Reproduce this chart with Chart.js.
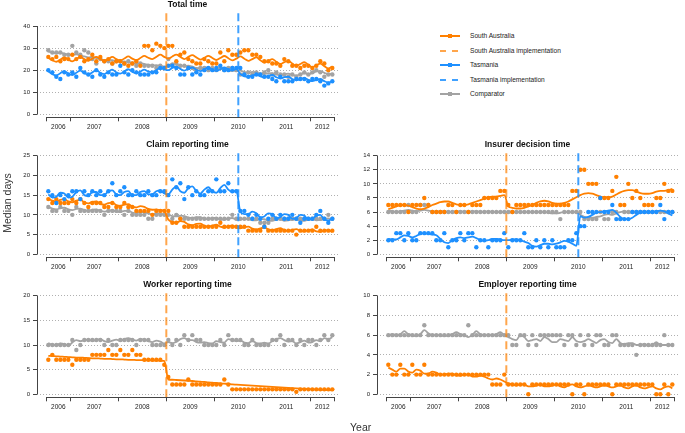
<!DOCTYPE html>
<html>
<head>
<meta charset="utf-8">
<script src="https://cdn.jsdelivr.net/npm/chart.js@4"></script>
<style>
body { margin: 0; background: #fff; font-family: "Liberation Sans", Arial, sans-serif; }
#wrap { position: relative; width: 685px; height: 433px; overflow: hidden; }
canvas { position: absolute; }
#legend { position: absolute; left: 440px; top: 0; font-size: 6.6px; color: #222; }
#legend .row { position: absolute; left: 0; height: 10px; width: 200px; }
#legend .sample { position: absolute; left: 0; top: 4px; width: 20px; height: 2px; }
#legend .mark { position: absolute; left: 8px; top: 3px; width: 4px; height: 4px; }
#legend .dash { position: absolute; top: 4px; width: 6px; height: 2px; }
#legend .txt { position: absolute; left: 30px; top: 1px; white-space: nowrap; }
#ylab { position: absolute; left: -28px; top: 197px; width: 70px; text-align: center; font-size: 10.5px; color: #333; transform: rotate(-90deg); }
#xlab { position: absolute; left: 350px; top: 421px; font-size: 10.5px; color: #333; }
</style>
</head>
<body>
<div id="wrap">
  <canvas id="total" width="342" height="140" style="left:0;top:0"></canvas>
  <canvas id="claim" width="342" height="140" style="left:0;top:140px"></canvas>
  <canvas id="worker" width="342" height="140" style="left:0;top:280px"></canvas>
  <canvas id="insurer" width="342" height="140" style="left:340px;top:140px"></canvas>
  <canvas id="employer" width="342" height="140" style="left:340px;top:280px"></canvas>
  <div id="legend"></div>
  <div id="ylab">Median days</div>
  <div id="xlab">Year</div>
</div>
<script>
// monthly series, Jul 2006 .. Jun 2012 (72 months)
const years = ['2006', '2007', '2008', '2009', '2010', '2011', '2012'];
const nMonths = 72;
const firstMonth = 7; // July 2006
const saStart = 30;   // Jan 2009
const tasStart = 48;  // Jul 2010

// Total time
const totalSA = [
  26, 25, 26, 24, 25, 25, 27, 25, 26, 24, 25, 27,
  24, 26, 24, 25, 23, 24, 24, 23, 22, 23, 24, 22,
  31, 31, 29, 32, 31, 30, 31, 31, 24, 27, 28, 25,
  24, 23, 23, 25, 24, 23, 23, 28, 24, 29, 27, 27,
  28, 29, 29, 27, 27, 26, 24, 24, 23, 23, 22, 25,
  24, 22, 22, 21, 22, 22, 21, 22, 24, 23, 20, 21];
const totalSAFit = [
  25.5, 24.5, 23.8, 24.8, 25.8, 24.8, 24, 25, 26, 25, 24.2, 25.2,
  26, 25, 24.2, 25, 26, 25, 24.3, 25.3, 26.2, 25.2, 24.5, 25.5,
  26.5, 25.6, 25, 26, 27, 26, 25.2, 26.2, 27, 26, 25, 26,
  26.8, 25.8, 24.8, 25.6, 26.5, 25.5, 24.6, 25.5, 26.4, 25.4, 24.4, 25.2,
  26.2, 25.2, 24.2, 25, 25.8, 24.5, 23.4, 24.2, 25, 23.8, 22.8, 23.6,
  24.2, 23, 22, 22.8, 23.6, 22.4, 21.4, 22.2, 23, 21.8, 20.8, 21.6];
const totalTas = [
  20, 19, 17, 16, 19, 18, 19, 17, 21, 19, 18, 17,
  20, 18, 17, 19, 18, 18, 22, 19, 18, 20, 19, 18,
  18, 18, 19, 19, 21, 21, 22, 22, 21, 18, 18, 21,
  18, 19, 18, 20, 21, 20, 21, 22, 20, 20, 21, 21,
  21, 18, 17, 17, 18, 18, 17, 17, 16, 15, 17, 15,
  15, 15, 16, 16, 16, 15, 16, 16, 15, 13, 14, 15];
const totalTasFit = [
  19.5, 18.2, 17.6, 18.6, 19.6, 18.4, 17.8, 18.8, 19.8, 18.6, 18, 19,
  20, 18.8, 18.2, 19.2, 20.2, 19, 18.4, 19.4, 20.4, 19.2, 18.6, 19.4,
  20.2, 19.4, 19, 20, 21, 20.4, 20, 21, 21.6, 20.6, 19.8, 20.6,
  21.2, 20.2, 19.6, 20.4, 21.2, 20.2, 19.6, 20.4, 21.2, 20.4, 19.8, 20.6,
  18.2, 17.2, 17, 17.6, 18, 17.2, 16.8, 17.4, 17.8, 16.8, 16.2, 16.8,
  17, 16, 15.4, 16, 16.4, 15.6, 15, 15.6, 16, 15, 14.4, 15];
const totalComp = [
  29, 28, 28, 28, 27, 27, 31, 28, 27, 29, 28, 25,
  23, 25, 24, 24, 23, 24, 24, 23, 24, 23, 22, 23,
  22, 22, 22, 21, 22, 21, 25, 22, 23, 22, 22, 21,
  21, 20, 21, 21, 20, 21, 20, 21, 20, 21, 21, 20,
  18, 18, 19, 18, 19, 18, 19, 20, 18, 19, 18, 18,
  17, 18, 17, 18, 19, 18, 19, 20, 19, 17, 18, 18];
const totalCompFit = [
  28.5, 28, 27.6, 27.8, 27.5, 27, 26.8, 27.2, 26.8, 26.2, 25.8, 26,
  25.5, 25, 24.6, 24.8, 24.5, 24, 23.8, 24, 23.6, 23.2, 23, 23.2,
  22.8, 22.4, 22, 22.3, 22, 21.6, 21.8, 23.2, 22.6, 22, 21.8, 22,
  21.6, 21, 20.8, 21.2, 21, 20.4, 20.2, 20.6, 20.4, 19.8, 19.6, 20,
  19.8, 19.2, 18.8, 19.2, 19, 18.4, 18.2, 18.6, 18.5, 18, 17.8, 18.2,
  18.4, 17.8, 17.6, 18.2, 18.6, 18.2, 18.6, 19.4, 19.6, 18.8, 18.2, 18.4];

// Claim reporting time
const claimSA = [
  14, 13, 14, 13, 13, 13, 14, 13, 14, 13, 12, 13,
  13, 13, 12, 12, 13, 12, 12, 13, 12, 12, 11, 11,
  11, 11, 10, 11, 11, 11, 11, 8, 8, 9, 7, 7,
  7, 7, 7, 7, 7, 7, 7, 8, 7, 7, 7, 7,
  7, 7, 6, 6, 6, 6, 7, 6, 6, 6, 6, 6,
  6, 6, 5, 6, 6, 6, 6, 7, 6, 6, 6, 6];
const claimSAFit = [
  14.2, 13.6, 13.4, 13.8, 14, 13.4, 13.2, 13.6, 13.8, 13.2, 12.9, 13.3,
  13.4, 12.8, 12.6, 13, 13.1, 12.5, 12.3, 12.6, 12.7, 12.1, 11.9, 12.2,
  12, 11.5, 11.3, 11.4, 11.2, 11, 8.8, 8.2, 8, 8.4, 8.2, 7.6,
  7.4, 7.7, 7.8, 7.2, 7, 7.3, 7.5, 7, 6.8, 7.1, 7.3, 6.8,
  6.6, 6.9, 7, 6.5, 6.3, 6.6, 6.8, 6.3, 6.1, 6.4, 6.6, 6.1,
  5.9, 6.2, 6.4, 5.9, 5.8, 6.1, 6.3, 5.8, 5.7, 6, 6.1, 5.7];
const claimTas = [
  16, 15, 13, 15, 14, 15, 16, 16, 14, 16, 15, 16,
  15, 16, 15, 16, 18, 15, 16, 17, 15, 15, 16, 15,
  15, 16, 15, 15, 16, 16, 15, 19, 17, 18, 14, 17,
  15, 16, 15, 15, 16, 16, 19, 16, 16, 18, 16, 16,
  11, 11, 10, 9, 10, 9, 7, 9, 10, 9, 10, 9,
  9, 10, 9, 8, 9, 9, 9, 10, 11, 9, 8, 9];
const claimTasFit = [
  15.2, 14.4, 14.6, 15.6, 15.4, 14.4, 14.6, 15.8, 16.2, 15, 14.8, 15.8,
  15.8, 15, 15, 16, 16.2, 15.2, 15, 15.8, 16, 15, 15, 15.8,
  16, 15.2, 15.2, 16, 16.2, 15.4, 15.2, 16.4, 17.2, 16, 15.6, 16.8,
  17.2, 16, 15.4, 16.4, 17, 16, 15.6, 16.8, 17.6, 16.4, 15.8, 16.2,
  10.8, 10.2, 10.2, 10.8, 10.4, 9.4, 9.6, 10.4, 10.2, 9.2, 9.4, 10.2,
  10, 9, 9.2, 10, 9.8, 8.8, 9, 9.8, 10, 8.8, 8.6, 9];
const claimComp = [
  12, 11, 11, 12, 11, 11, 10, 12, 11, 11, 11, 11,
  11, 11, 10, 11, 11, 11, 11, 10, 11, 10, 10, 10,
  10, 9, 9, 10, 10, 10, 10, 9, 10, 9, 9, 9,
  9, 9, 9, 9, 9, 9, 9, 9, 9, 9, 10, 9,
  9, 9, 9, 9, 9, 8, 8, 8, 9, 9, 9, 9,
  9, 9, 9, 9, 9, 9, 9, 9, 9, 9, 10, 9];
const claimCompFit = [
  12, 11.6, 11.4, 11.7, 11.8, 11.4, 11.2, 11.5, 11.6, 11.2, 11, 11.3,
  11.4, 11, 10.8, 11.1, 11.2, 10.8, 10.7, 11, 11, 10.6, 10.4, 10.7,
  10.7, 10.3, 10.1, 10.4, 10.4, 10, 10, 9.7, 9.6, 9.8, 9.7, 9.3,
  9.2, 9.4, 9.4, 9, 8.9, 9.2, 9.2, 8.8, 8.8, 9.1, 9.2, 8.8,
  8.8, 9, 9, 8.6, 8.6, 8.9, 8.9, 8.5, 8.5, 8.8, 8.9, 8.5,
  8.6, 8.8, 8.9, 8.5, 8.5, 8.8, 8.9, 8.6, 8.7, 9, 9.1, 8.8];

// Worker reporting time
const workerSA = [
  7, 8, 7, 7, 7, 7, 6, 7, 7, 7, 7, 8,
  8, 8, 8, 9, 8, 8, 9, 8, 8, 9, 8, 8,
  7, 7, 7, 7, 7, 6, 3.5, 2, 2, 2, 2, 3,
  2, 2, 2, 2, 2, 2, 2, 2, 3, 2, 1, 1,
  1, 1, 1, 1, 1, 1, 1, 1, 1, 1, 1, 1,
  1, 1, 0.5, 1, 1, 1, 1, 1, 1, 1, 1, 1];
const workerSAFit = [
  7.8, 7.75, 7.7, 7.65, 7.6, 7.55, 7.5, 7.45, 7.45, 7.4, 7.35, 7.3,
  7.3, 7.25, 7.2, 7.2, 7.15, 7.1, 7.1, 7.05, 7, 7, 6.95, 6.95,
  6.9, 6.9, 6.85, 6.85, 6.8, 6.8, 3, 2.95, 2.9, 2.85, 2.8, 2.75,
  2.7, 2.6, 2.55, 2.5, 2.4, 2.35, 2.3, 2.2, 2.15, 2.1, 2, 1.95,
  1.9, 1.85, 1.8, 1.75, 1.7, 1.65, 1.6, 1.55, 1.5, 1.45, 1.4, 1.35,
  1.3, 1.25, 1.2, 1.15, 1.1, 1.05, 1, 0.95, 0.9, 0.9, 0.85, 0.8];
const workerComp = [
  10, 10, 10, 10, 10, 10, 11, 9, 10, 11, 11, 11,
  11, 11, 10, 11, 10, 10, 11, 11, 11, 11, 10, 11,
  11, 11, 10, 10, 10, 10, 11, 10, 11, 10, 12, 11,
  12, 11, 11, 10, 10, 10, 10, 11, 10, 12, 11, 11,
  11, 10, 10, 11, 10, 10, 10, 10, 11, 11, 12, 10,
  11, 11, 10, 11, 10, 11, 11, 10, 11, 12, 11, 12];
const workerCompFit = [
  10.4, 10, 10, 10.3, 10.2, 9.9, 10.5, 11, 10.8, 11, 11.1, 10.8,
  11, 11.2, 10.8, 10.6, 10.9, 11.1, 10.8, 11.2, 11.4, 11.1, 10.9, 11.2,
  11.1, 10.8, 10.6, 10.9, 10.7, 10.3, 10.6, 10.4, 10.6, 11.2, 11.4, 11,
  11, 10.6, 10.5, 10.6, 10.4, 10.3, 10.8, 10.6, 10.5, 11.2, 11, 10.8,
  10.9, 10.5, 10.4, 10.8, 10.4, 10.3, 10.5, 10.3, 10.8, 11.2, 11.4, 11,
  10.7, 10.8, 10.3, 10.6, 10.9, 10.5, 10.6, 11, 10.8, 11.4, 11.2, 11.6];

// Insurer decision time
const insurerSA = [
  7, 7, 7, 7, 7, 6, 7, 7, 7, 8, 7, 6,
  6, 6, 6, 7, 7, 6, 7, 7, 6, 7, 7, 7,
  8, 8, 8, 8, 9, 9, 7, 6, 7, 7, 7, 7,
  7, 7, 7, 7, 7, 7, 7, 7, 7, 7, 9, 9,
  12, 12, 10, 10, 10, 8, 8, 8, 9, 11, 7, 7,
  10, 8, 9, 8, 7, 7, 7, 8, 8, 10, 9, 9];
const insurerSAFit = [
  6.4, 6.6, 6.8, 7, 7, 6.9, 6.7, 6.5, 6.4, 6.5, 6.7, 7,
  7.2, 7.4, 7.5, 7.5, 7.3, 7.1, 7, 7, 7.1, 7.3, 7.5, 7.7,
  7.9, 8.1, 8.2, 8.2, 8.3, 8.4, 6.8, 6.6, 6.5, 6.5, 6.6, 6.8,
  7, 7.3, 7.5, 7.6, 7.5, 7.3, 7.2, 7.2, 7.3, 7.5, 7.8, 8.1,
  8.4, 8.6, 8.7, 8.6, 8.4, 8.2, 8.1, 8.1, 8.2, 8.5, 8.8, 9,
  9.1, 9.1, 8.9, 8.7, 8.6, 8.6, 8.7, 8.9, 9, 9, 9.1, 9.3];
const insurerTas = [
  2, 2, 3, 3, 2, 3, 2, 2, 3, 3, 3, 3,
  2, 2, 3, 1, 2, 2, 3, 2, 3, 3, 1, 2,
  2, 1, 2, 2, 2, 3, 1, 2, 2, 2, 3, 1,
  1, 2, 1, 2, 1, 2, 1, 1, 1, 2, 2, 3,
  4, 4, 6, 6, 6, 8, 6, 6, 7, 5, 5, 5,
  5, 6, 6, 6, 6, 6, 6, 6, 7, 5, 6, 6];
const insurerTasFit = [
  2.2, 2.1, 2.1, 2.4, 2.7, 2.6, 2.4, 2.6, 2.9, 3, 2.9, 2.8,
  2.7, 2.2, 1.7, 1.6, 2, 2.3, 2.4, 2.3, 2.4, 2.5, 2.3, 2,
  1.9, 2, 2.2, 2.2, 2.1, 2, 2, 2.1, 2.1, 2, 1.8, 1.6,
  1.2, 1.1, 1.3, 1.5, 1.5, 1.4, 1.5, 1.7, 1.9, 1.8, 1.5, 1.2,
  5.4, 5.2, 5.3, 5.6, 5.9, 6, 6.1, 6.2, 6.3, 5.9, 5.3, 5,
  5, 5.2, 5.6, 5.9, 6, 6, 6, 6.1, 6.2, 6.1, 5.8, 5.5];
const insurerComp = [
  6, 6, 6, 6, 6, 7, 6, 6, 7, 7, 7, 6,
  6, 6, 6, 6, 6, 6, 6, 6, 6, 6, 6, 6,
  6, 6, 6, 6, 6, 6, 6, 6, 6, 6, 6, 6,
  6, 6, 6, 6, 6, 6, 6, 5, 6, 6, 6, 6,
  6, 5, 5, 5, 5, 6, 5, 5, 6, 6, 5, 6,
  6, 6, 6, 6, 6, 6, 6, 6, 6, 6, 6, 6];
const insurerCompFit = [
  6.2, 6.1, 6, 6.1, 6.2, 6.3, 6.2, 6.1, 6.2, 6.3, 6.2, 6.1,
  6, 6.1, 6.1, 6, 6, 6.1, 6.1, 6, 6, 6.1, 6.1, 6,
  6, 6.1, 6, 6, 6, 6, 6, 6, 6, 6, 6, 6,
  6, 6, 6, 6, 5.9, 5.8, 5.8, 5.9, 6, 6, 6, 6,
  5.6, 5.3, 5.2, 5.2, 5.3, 5.4, 5.6, 5.7, 5.6, 5.8, 6, 6.1,
  6, 5.9, 6, 6.1, 6, 5.9, 6, 6.1, 6.2, 6.1, 6, 6];

// Employer reporting time
const employerSA = [
  3, 2, 2, 3, 2, 2, 3, 2, 2, 3, 2, 2,
  2, 2, 2, 2, 2, 2, 2, 2, 2, 2, 2, 2,
  2, 2, 1, 1, 1, 2, 1, 1, 1, 1, 1, 0,
  1, 1, 1, 1, 1, 1, 1, 1, 1, 1, 0, 1,
  1, 0, 1, 1, 1, 1, 1, 1, 0, 1, 1, 1,
  1, 1, 1, 1, 1, 1, 1, 0, 0, 1, 0, 1];
const employerSAFit = [
  2.7, 2.5, 2.3, 2.6, 2.6, 2.3, 2.2, 2.5, 2.4, 2.1, 2.1, 2.3,
  2.2, 2, 2, 2.1, 2.1, 1.9, 1.9, 2, 2, 1.8, 1.8, 1.9,
  1.8, 1.6, 1.5, 1.6, 1.5, 1.3, 1.1, 1, 0.9, 1, 1, 0.8,
  0.8, 0.9, 1, 0.8, 0.8, 0.9, 1, 0.8, 0.7, 0.9, 1, 0.8,
  0.7, 0.8, 0.9, 0.8, 0.7, 0.8, 0.9, 0.8, 0.7, 0.8, 0.9, 0.7,
  0.6, 0.8, 0.9, 0.7, 0.6, 0.7, 0.8, 0.6, 0.5, 0.7, 0.8, 0.6];
const employerComp = [
  6, 6, 6, 6, 6, 6, 6, 6, 6, 7, 6, 6,
  6, 6, 6, 6, 6, 6, 6, 6, 7, 6, 6, 6,
  6, 6, 6, 6, 6, 6, 6, 5, 5, 6, 6, 5,
  6, 5, 6, 6, 6, 6, 6, 6, 5, 6, 6, 5,
  6, 5, 6, 5, 6, 6, 5, 5, 6, 6, 5, 5,
  5, 5, 4, 5, 5, 5, 5, 5, 5, 6, 5, 5];
const employerCompFit = [
  6, 6.1, 6, 6.1, 6.4, 6.1, 6, 5.9, 6.1, 6.5, 6.2, 6,
  6, 6, 5.9, 6, 6.1, 6.3, 6.1, 6, 5.8, 6, 6.4, 6.1,
  6, 6, 6, 6.1, 6.3, 6, 5.8, 5.6, 5.5, 6, 5.8, 5.4,
  5.5, 5.6, 5.4, 5.8, 5.6, 5.3, 5.3, 5.6, 5.5, 5.4, 5.8, 5.4,
  5.3, 5.4, 5.6, 5.4, 5.2, 5.5, 5.6, 5.3, 5.2, 5.6, 5.2, 5.1,
  5.2, 5.2, 5, 5, 5.1, 4.9, 5, 5.3, 5, 5, 5, 5];

const totalTicks = [0, 10, 20, 30, 40];
const claimTicks = [0, 5, 10, 15, 20, 25];
const workerTicks = [0, 5, 10, 15, 20];
const insurerTicks = [0, 2, 4, 6, 8, 10, 12, 14];
const employerTicks = [0, 2, 4, 6, 8, 10];

const SA = '#ff8000', TAS = '#1e90ff', COMP = '#a3a3a3';
const SA_IMPL = 'rgba(255,128,0,0.7)', TAS_IMPL = 'rgba(30,144,255,0.85)';

Chart.defaults.font.family = "'Liberation Sans', Arial, sans-serif";
Chart.defaults.color = '#222';

// year boundaries (January) and label positions (middle of each year's visible part)
const bounds = [0];
const labelAt = {};
years.forEach((y, k) => {
  const s = Math.max(0, k * 12 - (firstMonth - 1));
  const e = Math.min(nMonths, (k + 1) * 12 - (firstMonth - 1));
  if (s > 0) bounds.push(s);
  labelAt[(s + e) / 2] = y;
});
bounds.push(nMonths);
const xTickVals = [...new Set([...bounds, ...Object.keys(labelAt).map(Number)])].sort((a, b) => a - b);

// R-style axis lines: only between first and last tick
const rAxes = {
  id: 'rAxes',
  afterDatasetsDraw(chart) {
    const { ctx, chartArea: a, scales: { x, y } } = chart;
    const yt = y.ticks;
    const by = Math.round(a.bottom) + 0.5, lx = Math.round(a.left) + 0.5;
    ctx.save();
    ctx.strokeStyle = '#444';
    ctx.lineWidth = 1;
    ctx.beginPath();
    ctx.moveTo(x.getPixelForValue(0), by);
    ctx.lineTo(x.getPixelForValue(nMonths), by);
    ctx.moveTo(lx, y.getPixelForValue(yt[0].value));
    ctx.lineTo(lx, y.getPixelForValue(yt[yt.length - 1].value));
    ctx.stroke();
    ctx.restore();
  }
};

const pts = arr => arr.map((v, i) => ({ x: i + 0.5, y: v }));

function panel(id, title, yTicks, topPx, series, impl) {
  const AREA_TOP = 10, AREA_BOTTOM = 117.3, ZERO_PX = 114.3;
  const top = yTicks[yTicks.length - 1];
  const ppu = (ZERO_PX - topPx) / top;
  const yMax = top + (topPx - AREA_TOP) / ppu;
  const yMin = -(AREA_BOTTOM - ZERO_PX) / ppu;

  const datasets = [];
  impl.forEach(l => datasets.push({
    data: [{ x: l.x, y: yMin }, { x: l.x, y: yMax }],
    showLine: true, borderColor: l.color, borderWidth: 2,
    borderDash: [8, 4], pointRadius: 0
  }));
  series.forEach(s => {
    datasets.push({
      data: pts(s.fit), showLine: true, borderColor: s.color, borderWidth: 1.8,
      pointRadius: 0, cubicInterpolationMode: 'monotone'
    });
    datasets.push({
      data: pts(s.points), showLine: false, backgroundColor: s.color,
      borderWidth: 0, pointRadius: 2.2
    });
  });

  new Chart(document.getElementById(id), {
    type: 'scatter',
    data: { datasets },
    options: {
      responsive: false,
      animation: false,
      layout: { padding: { left: 0, right: 4, top: 0, bottom: 0 } },
      plugins: {
        legend: { display: false },
        tooltip: { enabled: false },
        title: {
          display: true, text: title, fullSize: false, color: '#111',
          font: { size: 8.5, weight: 'bold', lineHeight: '10px' },
          padding: { top: 0, bottom: 0 }
        }
      },
      scales: {
        x: {
          type: 'linear', min: -2.33, max: 72.92,
          afterBuildTicks: sc => { sc.ticks = xTickVals.map(v => ({ value: v })); },
          afterFit: sc => { sc.height = 22.7; },
          border: { display: false },
          grid: {
            drawOnChartArea: false, tickLength: 4,
            tickColor: c => (c.tick && bounds.includes(c.tick.value)) ? '#444' : 'rgba(0,0,0,0)'
          },
          ticks: {
            autoSkip: false, maxRotation: 0, padding: 2,
            font: { size: 6.5 }, color: '#222',
            callback: v => labelAt[v] || ''
          }
        },
        y: {
          min: yMin, max: yMax,
          afterBuildTicks: sc => { sc.ticks = yTicks.map(v => ({ value: v })); },
          afterFit: sc => { sc.width = 37; },
          border: { display: false, dash: [1, 2] },
          grid: { color: '#b0b0b0', tickColor: '#444', tickLength: 4 },
          ticks: { padding: 3, font: { size: 6 }, color: '#222' }
        }
      }
    },
    plugins: [rAxes]
  });
}

const saImpl = { x: saStart, color: SA_IMPL };
const tasImpl = { x: tasStart, color: TAS_IMPL };

panel('total', 'Total time', totalTicks, 26, [
  { points: totalTas, fit: totalTasFit, color: TAS },
  { points: totalSA, fit: totalSAFit, color: SA },
  { points: totalComp, fit: totalCompFit, color: COMP }
], [saImpl, tasImpl]);

panel('claim', 'Claim reporting time', claimTicks, 15.7, [
  { points: claimTas, fit: claimTasFit, color: TAS },
  { points: claimSA, fit: claimSAFit, color: SA },
  { points: claimComp, fit: claimCompFit, color: COMP }
], [saImpl, tasImpl]);

panel('worker', 'Worker reporting time', workerTicks, 15.7, [
  { points: workerSA, fit: workerSAFit, color: SA },
  { points: workerComp, fit: workerCompFit, color: COMP }
], [saImpl]);

panel('insurer', 'Insurer decision time', insurerTicks, 15.7, [
  { points: insurerTas, fit: insurerTasFit, color: TAS },
  { points: insurerSA, fit: insurerSAFit, color: SA },
  { points: insurerComp, fit: insurerCompFit, color: COMP }
], [saImpl, tasImpl]);

panel('employer', 'Employer reporting time', employerTicks, 15.7, [
  { points: employerSA, fit: employerSAFit, color: SA },
  { points: employerComp, fit: employerCompFit, color: COMP }
], [saImpl]);

// legend
const legendItems = [
  { label: 'South Australia', color: SA, dashed: false },
  { label: 'South Australia implementation', color: SA_IMPL, dashed: true },
  { label: 'Tasmania', color: TAS, dashed: false },
  { label: 'Tasmania implementation', color: TAS_IMPL, dashed: true },
  { label: 'Comparator', color: COMP, dashed: false }
];
const legend = document.getElementById('legend');
legendItems.forEach((it, k) => {
  const row = document.createElement('div');
  row.className = 'row';
  row.style.top = (31 + k * 14.5) + 'px';
  let sample;
  if (it.dashed) {
    sample = `<div class="dash" style="left:0;background:${it.color}"></div>` +
             `<div class="dash" style="left:12px;background:${it.color}"></div>`;
  } else {
    sample = `<div class="sample" style="background:${it.color}"></div>` +
             `<div class="mark" style="background:${it.color}"></div>`;
  }
  row.innerHTML = sample + `<div class="txt">${it.label}</div>`;
  legend.appendChild(row);
});
</script>
</body>
</html>
